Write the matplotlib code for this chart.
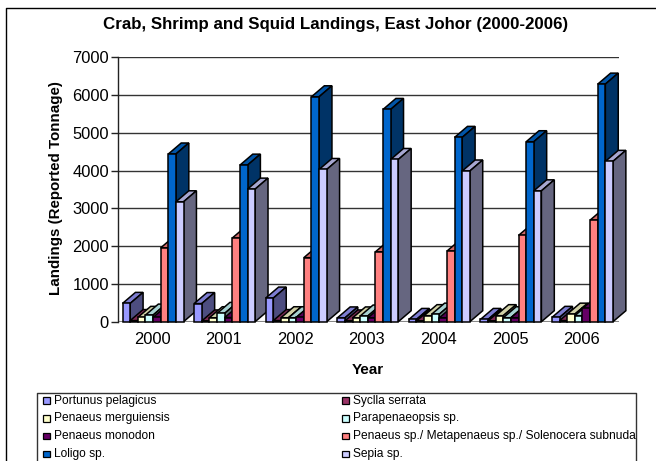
import numpy as np
import matplotlib
matplotlib.use("Agg")
import matplotlib.pyplot as plt
from matplotlib.colors import to_rgb
from matplotlib.patches import Rectangle
from matplotlib.lines import Line2D

years = ["2000", "2001", "2002", "2003", "2004", "2005", "2006"]
species = ["Portunus pelagicus", "Syclla serrata", "Penaeus merguiensis", "Parapenaeopsis sp.",
           "Penaeus monodon", "Penaeus sp./ Metapenaeus sp./ Solenocera subnuda", "Loligo sp.", "Sepia sp."]
colors = ["#9999FF", "#993366", "#FFFFCC", "#CCFFFF", "#660066", "#FF8080", "#0066CC", "#CCCCFF"]

portunus = [485, 480, 626, 100, 60, 60, 115]
syclla = [30, 20, 30, 20, 20, 20, 30]
merguiensis = [115, 105, 105, 100, 160, 160, 200]
parapenaeopsis = [175, 220, 105, 150, 200, 105, 160]
monodon = [115, 110, 115, 100, 105, 105, 350]
penaeus = [1955, 2215, 1695, 1850, 1870, 2285, 2690]
loligo = [4440, 4145, 5955, 5620, 4880, 4765, 6290]
sepia = [3175, 3510, 4030, 4295, 3990, 3465, 4245]
series = [portunus, syclla, merguiensis, parapenaeopsis, monodon, penaeus, loligo, sepia]

W, H = 656, 461
plt.rcParams["font.family"] = ["Liberation Sans", "DejaVu Sans"]

fig = plt.figure(figsize=(W / 100, H / 100), dpi=100)


def fx(px):
    return px / W


def fy(py):
    return 1 - py / H


# axes box in pixels
left, right, top, bottom = 118, 619, 57.3, 321.7
ax = fig.add_axes([fx(left), fy(bottom), (right - left) / W, (bottom - top) / H])
ax.set_xlim(0, 7)
ax.set_ylim(0, 7000)
ax.patch.set_visible(False)
for s in ["top", "right", "bottom"]:
    ax.spines[s].set_visible(False)
ax.spines["left"].set_linewidth(1)
ax.spines["left"].set_color("#222222")
ax.set_xticks([])
ax.set_yticks(range(0, 7001, 1000))
ax.tick_params(axis="y", length=5, width=1, labelsize=11.9, pad=1.5, color="#222222")
for v in range(1000, 7001, 1000):
    ax.axhline(v, color="#333333", lw=1, zorder=1)
ax.axhline(0, color="#888888", lw=1.5, zorder=1)

bw = 0.1065
dx = 0.18
dy = 291
for g in range(len(years)):
    x0 = g + 0.5 - bw * 4 - 0.01
    for i, vals in enumerate(series):
        v = vals[g]
        x = x0 + i * bw
        c = np.array(to_rgb(colors[i]))
        ax.fill([x, x + dx, x + dx + bw, x + bw], [v, v + dy, v + dy, v],
                color=c * 0.82, ec="black", lw=1.1, clip_on=False, zorder=3)
        ax.fill([x + bw, x + bw + dx, x + bw + dx, x + bw], [0, dy, v + dy, v],
                color=c * 0.5, ec="black", lw=1.1, clip_on=False, zorder=3)
        ax.bar(x, v, bw, align="edge", color=colors[i], ec="black", lw=1.1, clip_on=False, zorder=3)
    fig.text(fx(152 + g * 71.6), fy(339), years[g], ha="center", va="center", fontsize=11.9)

fig.text(fx(335.5), fy(24.5), "Crab, Shrimp and Squid Landings, East Johor (2000-2006)",
         ha="center", va="center", fontsize=12.2, fontweight="bold")
fig.text(fx(368), fy(370), "Year", ha="center", va="center", fontsize=11, fontweight="bold")
fig.text(fx(56), fy(188), "Landings (Reported Tonnage)", rotation=90, ha="center", va="center",
         fontsize=10.9, fontweight="bold")

# outer chart frame, runs off the right and bottom
fig.add_artist(Line2D([fx(6), fx(6), 1], [0, fy(8), fy(8)], color="black", lw=1))

# legend box is cut by the bottom edge as well
fig.add_artist(Line2D([fx(37), fx(37), fx(635.5), fx(635.5)], [0, fy(392.7), fy(392.7), 0], color="#333333", lw=1))
rows = [400.7, 418.3, 436, 454]
cols = [43, 342]
for i, name in enumerate(species):
    sx = cols[i % 2]
    sy = rows[i // 2]
    fig.add_artist(Rectangle((fx(sx), fy(sy + 3.2)), 6.5 / W, 6.5 / H, transform=fig.transFigure,
                             fc=colors[i], ec="black", lw=0.9))
    fig.text(fx(sx + 11), fy(sy), name, ha="left", va="center", fontsize=8.65)

fig.savefig("out.png", dpi=100)
